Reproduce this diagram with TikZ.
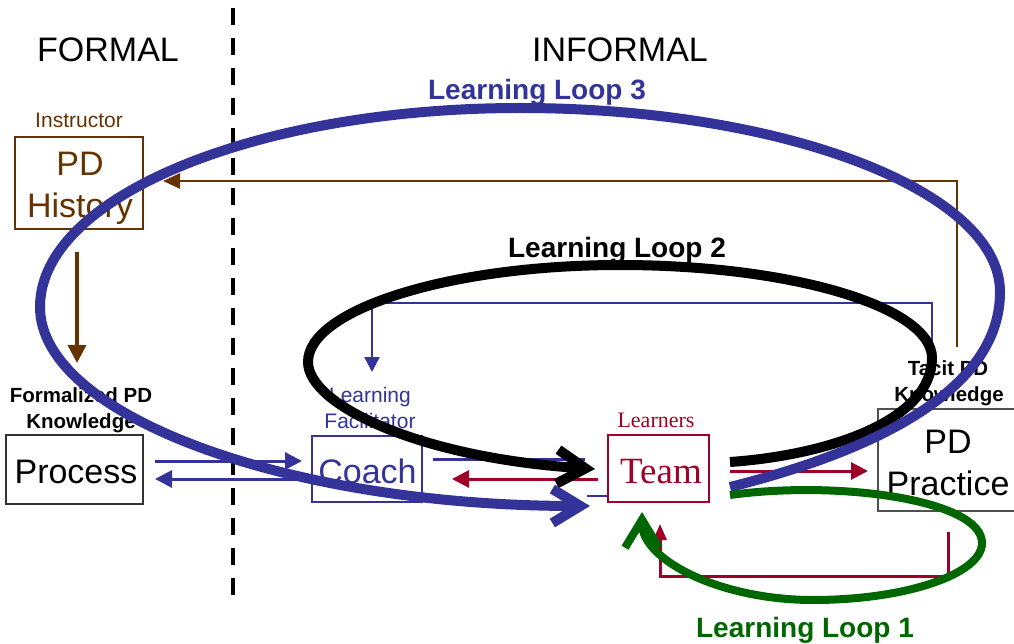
\documentclass[tikz,border=0pt]{standalone}
\usepackage{fontspec}
\setmainfont{Liberation Sans}
\newfontfamily\tnr{Liberation Serif}
\usetikzlibrary{arrows.meta}
\definecolor{lblue}{RGB}{51,51,153}
\definecolor{lbrown}{RGB}{102,51,0}
\definecolor{lred}{RGB}{160,0,40}
\definecolor{lgreen}{RGB}{0,102,0}
\definecolor{lgray}{RGB}{80,80,80}
\tikzset{
  box/.style={draw=#1, line width=1.3pt, fill=white, inner sep=0pt},
  txt/.style={anchor=base, inner sep=0pt},
  huge/.style={font=\fontsize{34}{40}\selectfont},
  small/.style={font=\fontsize{21}{25}\selectfont},
  smallbf/.style={font=\fontsize{20.5}{25}\selectfont\bfseries},
  looplbl/.style={font=\fontsize{28}{32}\selectfont\bfseries},
  thinarrow/.style={draw=#1, line width=3pt, -{Triangle[length=17pt,width=17pt]}},
  loopline/.style={draw=#1, line width=10pt, -{Straight Barb[length=28pt,width=34pt]}},
}
\begin{document}
\begin{tikzpicture}[x=1pt,y=-1pt]
\useasboundingbox (0,0) rectangle (1014,644);
% divider
\draw[line width=4pt, dash pattern=on 17pt off 13pt] (233,8) -- (233,604);
% headings
\node[txt, huge] (formal) at (108,62) {FORMAL};
\node[txt, huge] (informal) at (620,62) {INFORMAL};
% boxes
\node[box=lbrown, minimum width=128pt, minimum height=92pt] (hist) at (79,183) {};
\node[box=black!80, minimum width=137pt, minimum height=69pt] (proc) at (74.5,469.5) {};
\node[box=lblue, minimum width=110pt, minimum height=66pt] (coach) at (367,469) {};
\node[box=lred, minimum width=101pt, minimum height=67pt] (team) at (658.5,468.5) {};
\node[box=lgray, minimum width=140pt, minimum height=102pt] (prac) at (948,460) {};
% box texts
\node[txt, small, text=lbrown] (instr) at (79,128) {Instructor};
\node[txt, huge, text=lbrown] (hist1) at (80,176) {PD};
\node[txt, huge, text=lbrown] (hist2) at (80,218) {History};
\node[txt, smallbf] (fk1) at (81,402) {Formalized PD};
\node[txt, smallbf] (fk2) at (81,428) {Knowledge};
\node[txt, huge] (proct) at (76,483) {Process};
\node[txt, small, text=lblue] (lf1) at (370,402) {Learning};
\node[txt, small, text=lblue] (lf2) at (370,428) {Facilitator};
\node[txt, huge, text=lblue] (coacht) at (367.5,483) {Coach};
\node[txt, font=\tnr\fontsize{22}{26}\selectfont, text=lred] (learners) at (656,427) {Learners};
\node[txt, font=\tnr\fontsize{37}{42}\selectfont, text=lred] (teamt) at (661,483) {Team};
\node[txt, smallbf] (tk1) at (948,375) {Tacit PD};
\node[txt, smallbf] (tk2) at (949,401) {Knowledge};
\node[txt, huge] (prac1) at (948,453) {PD};
\node[txt, huge] (prac2) at (948,495) {Practice};
% coordinates for connector ends
\coordinate (brA) at (957,347);
\coordinate (brB) at (163,181);
\coordinate (hdA) at (77,252);
\coordinate (hdB) at (77,363);
\coordinate (fbA) at (932,347);
\coordinate (fbB) at (372,372);
\coordinate (pcA) at (155,461);
\coordinate (pcB) at (302,461);
\coordinate (cpA) at (302,479);
\coordinate (cpB) at (155,479);
\coordinate (ctA) at (433,459);
\coordinate (ctB) at (585,459);
\coordinate (tcA) at (598,479);
\coordinate (tcB) at (452,479);
\coordinate (tpA) at (730,471);
\coordinate (tpB) at (868,471);
\coordinate (ptA) at (948,532);
\coordinate (ptB) at (660,524);
\coordinate (smA) at (587,496);
% brown connectors
\draw[lbrown, line width=2.5pt, -{Triangle[length=17pt,width=15pt]}] (brA) -- (brA |- brB) -- (brB);
\draw[lbrown, line width=3.5pt, -{Triangle[length=18pt,width=18pt]}] (hdA) -- (hdB);
% blue feedback
\draw[lblue, line width=2.5pt, -{Triangle[length=15pt,width=15pt]}] (fbA) -- (932,303) -- (372,303) -- (fbB);
% process <-> coach
\draw[thinarrow=lblue] (pcA) -- (pcB);
\draw[thinarrow=lblue] (cpA) -- (cpB);
\draw[lblue, line width=3pt] (ctA) -- (ctB);
\draw[lblue, line width=2pt] (smA) -- (smA -| team.west);
% red
\draw[thinarrow=lred] (tcA) -- (tcB);
\draw[thinarrow=lred] (tpA) -- (tpB);
\draw[lred, line width=3pt, -{Triangle[length=16pt,width=13pt]}] (ptA) -- (948,576) -- (660,576) -- (ptB);
% loops
\draw[loopline=black] (730,462) .. controls (830,455) and (932,420) .. (932,358) .. controls (932,307) and (792,265) .. (620,265) .. controls (448,265) and (308,310) .. (308,362) .. controls (308,405) and (420,458) .. (595,469);
\draw[loopline=lblue] (730,487) .. controls (870,452) and (1000,392) .. (1000,292) .. controls (1000,191) and (784,108) .. (520,108) .. controls (255,108) and (40,197) .. (40,307) .. controls (40,415) and (286,506) .. (590,506);
\draw[draw=lgreen, line width=8pt, -{Straight Barb[length=28pt,width=34pt]}] (730,495) .. controls (840,480) and (982,500) .. (982,543) .. controls (982,574) and (906,600) .. (813,600) .. controls (720,600) and (642,560) .. (642,512);
% loop labels
\node[txt, looplbl, text=lblue] (l3) at (537,100) {Learning Loop 3};
\node[txt, looplbl] (l2) at (617,258) {Learning Loop 2};
\node[txt, looplbl, text=lgreen] (l1) at (805,637) {Learning Loop 1};
\end{tikzpicture}
\end{document}
